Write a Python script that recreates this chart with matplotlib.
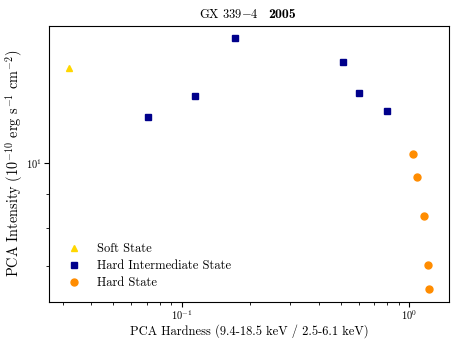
import matplotlib
matplotlib.use("Agg")
import matplotlib.pyplot as plt

plt.rcParams['font.family'] = 'serif'
plt.rcParams['font.serif'] = ['cmr10']
plt.rcParams['mathtext.fontset'] = 'cm'
plt.rcParams['axes.formatter.use_mathtext'] = True

# Soft state
soft_x = [0.0321]
soft_y = [13.90]

# Hard intermediate state
him_x = [0.0709, 0.1141, 0.1720, 0.5098, 0.603, 0.798]
him_y = [11.75, 12.63, 15.44, 14.19, 12.76, 11.99]

# Hard state
hard_x = [1.041, 1.081, 1.164, 1.205, 1.221]
hard_y = [10.34, 9.53, 8.32, 7.03, 6.47]

fig = plt.figure(figsize=(4.63, 3.47), dpi=100)
ax = fig.add_axes([0.1058, 0.1305, 0.864, 0.796])

ax.plot(soft_x, soft_y, '^', color='#FFD700', ms=5, label='Soft State')
ax.plot(him_x, him_y, 's', color='#00008B', ms=5, label='Hard Intermediate State')
ax.plot(hard_x, hard_y, 'o', color='#FF8C00', ms=5, label='Hard State')

ax.set_xscale('log')
ax.set_yscale('log')
ax.set_xlim(0.0261, 1.493)
ax.set_ylim(6.19, 16.12)

ax.tick_params(labelsize=7.5, pad=1.5)
ax.set_xlabel('PCA Hardness (9.4-18.5 keV / 2.5-6.1 keV)', fontsize=9)
ax.set_ylabel(r'PCA Intensity ($10^{-10}$ erg s$^{-1}$ cm$^{-2}$)', fontsize=10.3)
ax.xaxis.set_label_coords(0.5, -0.08)
ax.yaxis.set_label_coords(-0.06, 0.5)

# title: plain part + bold year
ax.text(0.525, 1.015, r'GX 339$-$4', transform=ax.transAxes, ha='right',
        va='bottom', fontsize=9)
ax.text(0.5475, 1.015, '2005', transform=ax.transAxes, ha='left',
        va='bottom', fontsize=10, family='cmb10')

ax.legend(loc='lower left', frameon=False, fontsize=9, labelspacing=0.4,
          handletextpad=0.85, borderaxespad=0.6)

fig.savefig('out.png', dpi=100)
